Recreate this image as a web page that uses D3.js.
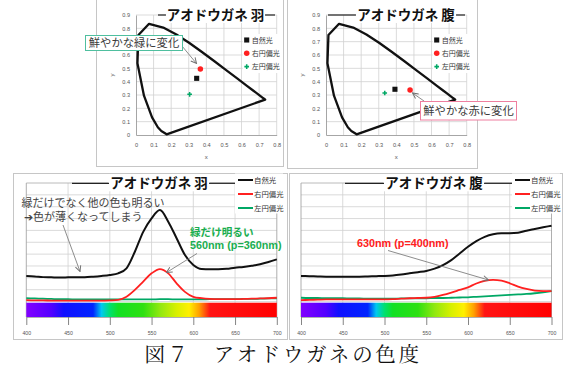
<!DOCTYPE html>
<html><head><meta charset="utf-8">
<script src="https://cdn.jsdelivr.net/npm/d3@7"></script>
<style>
html,body{margin:0;padding:0;background:#fff;}
svg{display:block;}
</style></head><body>
<svg id="fig" width="563" height="369"></svg>
<script>
// ---------- data ----------
const seriesNames = ["自然光", "右円偏光", "左円偏光"];
const seriesColors = ["#111111", "#ff2020", "#00a865"];

// CIE 1931 spectral locus at 10 nm steps (380, 460 ... 700 nm)
const locusX = [0.1741, 0.1440, 0.1241, 0.0913, 0.0454, 0.0082, 0.0139, 0.0743, 0.1547, 0.2296, 0.3016, 0.3731, 0.4441, 0.5125, 0.5752, 0.6270, 0.6658, 0.6915, 0.7190, 0.7300, 0.7347];
const locusY = [0.0050, 0.0297, 0.0578, 0.1327, 0.2950, 0.5384, 0.7502, 0.8338, 0.8059, 0.7543, 0.6923, 0.6245, 0.5547, 0.4866, 0.4242, 0.3725, 0.3340, 0.3083, 0.2809, 0.2700, 0.2653];
const chromaTicksX = [0, 0.1, 0.2, 0.3, 0.4, 0.5, 0.6, 0.7, 0.8];
const chromaTicksY = [0, 0.1, 0.2, 0.3, 0.4, 0.5, 0.6, 0.7, 0.8, 0.9];

// chromaticity (x, y) of wing and belly under each light
const wingX = [0.345, 0.366, 0.305];
const wingY = [0.425, 0.495, 0.305];
const bellyX = [0.392, 0.478, 0.334];
const bellyY = [0.343, 0.338, 0.315];

// reflectance spectra
const wavelengths = [400, 410, 420, 430, 440, 450, 460, 470, 480, 490, 500, 510, 520, 530, 540, 550, 560, 570, 580, 590, 600, 610, 620, 630, 640, 650, 660, 670, 680, 690, 700];
const wingNatural = [15.8, 15.6, 15.3, 15.2, 15.1, 15.2, 15.3, 15.3, 15.5, 15.8, 16.2, 16.9, 19.0, 26.0, 34.4, 40.1, 43.6, 38.7, 31.7, 24.6, 20.4, 18.7, 18.6, 18.6, 18.8, 19.3, 19.6, 20.1, 20.7, 21.7, 22.8];
const wingRight = [5.6, 5.5, 5.5, 5.4, 5.4, 5.4, 5.4, 5.4, 5.4, 5.4, 5.5, 5.7, 7.0, 9.9, 13.4, 16.9, 18.7, 16.9, 12.7, 9.1, 7.0, 6.4, 6.1, 6.0, 6.0, 6.0, 6.1, 6.2, 6.3, 6.4, 6.6];
const wingLeft = [6.4, 6.3, 6.2, 6.1, 6.0, 6.0, 5.9, 5.9, 5.9, 5.9, 5.9, 5.9, 5.9, 5.9, 5.9, 5.9, 6.0, 6.0, 5.9, 5.9, 5.9, 5.9, 6.0, 6.0, 6.0, 6.0, 6.1, 6.1, 6.2, 6.3, 6.4];
const bellyNatural = [15.8, 15.7, 15.6, 15.5, 15.5, 15.5, 15.5, 15.5, 15.6, 15.7, 15.8, 16.0, 16.4, 16.9, 17.4, 17.9, 18.9, 20.4, 22.5, 25.3, 28.1, 30.5, 32.3, 33.4, 33.8, 33.8, 34.0, 34.9, 35.6, 36.3, 37.0];
const bellyRight = [5.6, 5.7, 5.8, 5.9, 5.9, 5.9, 5.9, 5.9, 5.9, 5.9, 5.9, 6.0, 6.2, 6.4, 6.5, 6.6, 7.0, 7.8, 8.8, 9.9, 11.0, 12.6, 13.7, 14.1, 13.8, 12.7, 11.3, 10.3, 9.6, 9.4, 9.4];
const bellyLeft = [6.6, 6.5, 6.5, 6.4, 6.4, 6.4, 6.3, 6.3, 6.2, 6.2, 6.2, 6.2, 6.3, 6.3, 6.4, 6.4, 6.5, 6.5, 6.6, 6.7, 6.8, 7.0, 7.2, 7.4, 7.6, 7.8, 8.0, 8.2, 8.5, 8.9, 9.4];
const nmTicks = [400, 450, 500, 550, 600, 650, 700];
const gridLevels = [5, 10, 15, 20, 25, 30, 35, 40, 45, 50];

// visible spectrum strip
const rainbowNm = [400, 430, 445, 480, 490, 500, 510, 540, 560, 580, 595, 607, 620, 700];
const rainbowColors = ["#8200ff", "#5200ff", "#1010ff", "#0024ff", "#00c8f0", "#00e070", "#12e024", "#2ee012", "#90e810", "#d8f000", "#fff000", "#ffa000", "#ff1414", "#ff0000"];

// ---------- drawing ----------
const svg = d3.select("#fig");
const JP = "'Noto Sans CJK JP', sans-serif";
const LAT = "'Liberation Sans', Arial, sans-serif";
svg.append("rect").attr("width", 563).attr("height", 369).attr("fill", "#fff");

const defs = svg.append("defs");
defs.append("marker").attr("id", "arrow").attr("viewBox", "0 0 10 10")
  .attr("refX", 9).attr("refY", 5).attr("markerWidth", 7).attr("markerHeight", 7)
  .attr("markerUnits", "userSpaceOnUse").attr("orient", "auto")
  .append("path").attr("d", "M1,1 L9,5 L1,9").attr("fill", "none")
  .attr("stroke", "#707070").attr("stroke-width", 1.4);

const symbolTypes = [d3.symbolSquare, d3.symbolCircle, d3.symbolCross];
const symbolSizes = [26, 24, 12];

function arrow(g, x1, y1, x2, y2) {
  g.append("line").attr("x1", x1).attr("y1", y1).attr("x2", x2).attr("y2", y2)
    .attr("stroke", "#808080").attr("stroke-width", 0.9).attr("marker-end", "url(#arrow)");
}

function titleBar(g, t) {
  g.append("rect").attr("x", t.tx - 2).attr("y", t.y - 9).attr("width", t.tw + 4).attr("height", 17).attr("fill", "#fff");
  g.append("line").attr("x1", t.l1).attr("x2", t.tx - 1).attr("y1", t.y).attr("y2", t.y).attr("stroke", "#222").attr("stroke-width", 1.2);
  g.append("line").attr("x1", t.tx + t.tw + 1).attr("x2", t.r2).attr("y1", t.y).attr("y2", t.y).attr("stroke", "#222").attr("stroke-width", 1.2);
  g.append("text").attr("x", t.tx + t.tw / 2).attr("y", t.y + 5).attr("text-anchor", "middle")
    .attr("font-family", JP).attr("font-weight", "bold").attr("font-size", 13.5).attr("fill", "#111")
    .text(t.text);
}

function chromaPanel(p) {
  const g = svg.append("g");
  g.append("rect").attr("x", p.frame[0]).attr("y", p.frame[1]).attr("width", p.frame[2]).attr("height", p.frame[3])
    .attr("fill", "#fff").attr("stroke", "#c6c6c6");
  const x = d3.scaleLinear().domain([0, 0.8]).range([p.left, p.left + 140.7]);
  const y = d3.scaleLinear().domain([0, 0.9]).range([135, 15]);

  g.append("g").selectAll("line").data(chromaTicksX.slice(1)).join("line")
    .attr("x1", d => x(d)).attr("x2", d => x(d)).attr("y1", y(0)).attr("y2", y(0.9))
    .attr("stroke", "#d2d2d2").attr("stroke-width", 0.8);
  g.append("g").selectAll("line").data(chromaTicksY.slice(1)).join("line")
    .attr("y1", d => y(d)).attr("y2", d => y(d)).attr("x1", x(0)).attr("x2", x(0.8))
    .attr("stroke", "#d2d2d2").attr("stroke-width", 0.8);

  const ax = g.append("g").attr("transform", `translate(0,${y(0)})`)
    .call(d3.axisBottom(x).tickValues(chromaTicksX).tickSize(0).tickSizeOuter(0).tickPadding(8.5).tickFormat(d => String(d)));
  const ay = g.append("g").attr("transform", `translate(${x(0)},0)`)
    .call(d3.axisLeft(y).tickValues(chromaTicksY).tickSize(0).tickSizeOuter(0).tickPadding(6).tickFormat(d => String(d)));
  [ax, ay].forEach(a => {
    a.select(".domain").attr("stroke", "#9c9c9c").attr("stroke-width", 0.9);
    a.selectAll("text").attr("font-family", LAT).attr("font-size", 5.6).attr("fill", "#555");
  });
  g.append("text").attr("x", x(0.4)).attr("y", 159).attr("text-anchor", "middle")
    .attr("font-family", LAT).attr("font-size", 6).attr("fill", "#555").text("x");
  g.append("text").attr("transform", `translate(${p.left - 22},${y(0.45)}) rotate(-90)`).attr("text-anchor", "middle")
    .attr("font-family", LAT).attr("font-size", 6).attr("fill", "#555").text("y");

  // spectral locus
  const loc = locusX.map((v, i) => [v, locusY[i]]);
  g.append("path").attr("d", d3.line().x(d => x(d[0])).y(d => y(d[1])).curve(d3.curveLinearClosed)(loc))
    .attr("fill", "none").attr("stroke", "#111").attr("stroke-width", 2.3).attr("stroke-linejoin", "round");

  titleBar(g, p.title);

  // legend
  g.append("rect").attr("x", p.legend[0] - 4).attr("y", p.legend[1] - 6).attr("width", 40).attr("height", 39).attr("fill", "#fff");
  seriesNames.forEach((name, i) => {
    const ly = p.legend[1] + i * 13.3;
    g.append("path").attr("d", d3.symbol(symbolTypes[i], symbolSizes[i])())
      .attr("transform", `translate(${p.legend[0]},${ly})`).attr("fill", seriesColors[i]);
    g.append("text").attr("x", p.legend[0] + 5).attr("y", ly + 2.5)
      .attr("font-family", JP).attr("font-size", 7).attr("fill", "#333").text(name);
  });

  // measured points
  p.px.forEach((v, i) => {
    g.append("path").attr("d", d3.symbol(symbolTypes[i], symbolSizes[i])())
      .attr("transform", `translate(${x(v)},${y(p.py[i])})`).attr("fill", seriesColors[i]);
  });

  // callout
  const c = p.callout;
  arrow(g, c.ax1, c.ay1, c.ax2, c.ay2);
  g.append("rect").attr("x", c.x).attr("y", c.y).attr("width", c.w).attr("height", c.h)
    .attr("fill", "#fff").attr("stroke", c.color).attr("stroke-width", 1);
  g.append("text").attr("x", c.x + c.w / 2).attr("y", c.y + c.h / 2 + 4).attr("text-anchor", "middle")
    .attr("font-family", JP).attr("font-size", 11.3).attr("fill", "#3a3a3a").text(c.text);
}

function spectrumPanel(p) {
  const g = svg.append("g");
  g.append("rect").attr("x", p.frame[0]).attr("y", p.frame[1]).attr("width", p.frame[2]).attr("height", p.frame[3])
    .attr("fill", "#fff").attr("stroke", "#c6c6c6");
  const x = d3.scaleLinear().domain([400, 700]).range([p.left, p.left + 250.5]);
  const y = d3.scaleLinear().domain([0, 55]).range([313.4, 183]);
  const axisY = 317;

  g.append("g").selectAll("line").data(gridLevels).join("line")
    .attr("x1", x(400)).attr("x2", x(700)).attr("y1", d => y(d)).attr("y2", d => y(d))
    .attr("stroke", "#d0d0d0").attr("stroke-width", 0.8);
  g.append("g").selectAll("line").data(nmTicks).join("line")
    .attr("x1", d => x(d)).attr("x2", d => x(d)).attr("y1", y(55)).attr("y2", axisY)
    .attr("stroke", d => (d === 400 || d === 700) ? "#9a9a9a" : "#d0d0d0").attr("stroke-width", 0.8);
  g.append("line").attr("x1", x(400)).attr("x2", x(700)).attr("y1", y(55)).attr("y2", y(55))
    .attr("stroke", "#a8a8a8").attr("stroke-width", 0.8);

  const ax = g.append("g").attr("transform", `translate(0,${axisY})`)
    .call(d3.axisBottom(x).tickValues(nmTicks).tickSize(8).tickSizeOuter(0).tickPadding(6).tickFormat(d => String(d)));
  ax.select(".domain").attr("stroke", "#9a9a9a").attr("stroke-width", 0.8);
  ax.selectAll(".tick line").attr("stroke", "#777").attr("stroke-width", 0.9);
  ax.selectAll("text").attr("font-family", LAT).attr("font-size", 5.2).attr("fill", "#555");

  // spectrum strip
  const gid = "rainbow" + p.id;
  const grad = defs.append("linearGradient").attr("id", gid).attr("x1", 0).attr("x2", 1).attr("y1", 0).attr("y2", 0);
  rainbowNm.forEach((nm, i) => grad.append("stop").attr("offset", (nm - 400) / 300).attr("stop-color", rainbowColors[i]));
  g.append("rect").attr("x", x(400)).attr("y", 302.7).attr("width", x(700) - x(400)).attr("height", 14.3)
    .attr("fill", `url(#${gid})`);

  const line = d3.line().x((d, i) => x(wavelengths[i])).y(d => y(d)).curve(d3.curveMonotoneX);
  [2, 1, 0].forEach(i => {
    g.append("path").attr("d", line(p.series[i])).attr("fill", "none")
      .attr("stroke", seriesColors[i]).attr("stroke-width", i === 0 ? 2 : 1.8).attr("stroke-linejoin", "round");
  });

  titleBar(g, p.title);

  // legend
  g.append("rect").attr("x", p.legend[0] - 3).attr("y", 173.5).attr("width", 48).attr("height", 40).attr("fill", "#fff");
  seriesNames.forEach((name, i) => {
    const ly = p.legend[1] + i * 14;
    g.append("line").attr("x1", p.legend[0]).attr("x2", p.legend[0] + 15).attr("y1", ly).attr("y2", ly)
      .attr("stroke", seriesColors[i]).attr("stroke-width", 2);
    g.append("text").attr("x", p.legend[0] + 16).attr("y", ly + 2.6)
      .attr("font-family", JP).attr("font-size", 7.4).attr("fill", "#333").text(name);
  });
  return { g, x, y };
}

// ---------- top: chromaticity diagrams ----------
chromaPanel({
  frame: [96.5, -0.5, 187, 167], left: 136,
  px: wingX, py: wingY, legend: [246.7, 40],
  title: { text: "アオドウガネ 羽", tx: 167, tw: 97, y: 15, l1: 158, r2: 275 },
  callout: { text: "鮮やかな緑に変化", x: 85.5, y: 35.5, w: 97, h: 15, color: "#4fbf9f",
             ax1: 182, ay1: 46, ax2: 196.5, ay2: 63.5 }
});
chromaPanel({
  frame: [287.5, -0.5, 190, 169], left: 326,
  px: bellyX, py: bellyY, legend: [436.7, 40],
  title: { text: "アオドウガネ 腹", tx: 357, tw: 98, y: 15, l1: 328, r2: 465 },
  callout: { text: "鮮やかな赤に変化", x: 420.5, y: 101.5, w: 96, h: 18.5, color: "#ee7f9f",
             ax1: 424, ay1: 101, ax2: 412.5, ay2: 93 }
});

// ---------- bottom: reflectance spectra ----------
const wing = spectrumPanel({
  id: "w", frame: [13.5, 173.5, 274, 166], left: 26.3,
  series: [wingNatural, wingRight, wingLeft], legend: [238, 180],
  title: { text: "アオドウガネ 羽", tx: 110, tw: 98, y: 183.3, l1: 72, r2: 235 }
});
const belly = spectrumPanel({
  id: "b", frame: [289.5, 173.5, 273, 166], left: 301,
  series: [bellyNatural, bellyRight, bellyLeft], legend: [515, 180],
  title: { text: "アオドウガネ 腹", tx: 385, tw: 98, y: 183.3, l1: 345, r2: 512 }
});

// annotations on the wing spectrum
const wg = wing.g;
wg.append("text").attr("x", 21.5).attr("y", 207).attr("font-family", JP).attr("font-size", 11)
  .attr("fill", "#444").text("緑だけでなく他の色も明るい");
wg.append("text").attr("x", 24).attr("y", 221).attr("font-family", JP).attr("font-size", 11)
  .attr("fill", "#444").text("➔色が薄くなってしまう");
arrow(wg, 63, 225, 80, 271.5);
wg.append("text").attr("x", 190).attr("y", 235.5).attr("font-family", JP).attr("font-weight", "bold")
  .attr("font-size", 10.6).attr("fill", "#1aae50").text("緑だけ明るい");
wg.append("text").attr("x", 190).attr("y", 249).attr("font-family", LAT).attr("font-weight", "bold")
  .attr("font-size", 10.8).attr("fill", "#1aae50").text("560nm (p=360nm)");
arrow(wg, 197, 253.5, 166.5, 272.5);

// annotation on the belly spectrum
const bg = belly.g;
bg.append("text").attr("x", 357).attr("y", 247.3).attr("font-family", LAT).attr("font-weight", "bold")
  .attr("font-size", 10.8).attr("fill", "#ff2020").text("630nm (p=400nm)");
arrow(bg, 388, 250.5, 488.5, 280);

// caption
svg.append("text").attr("x", 283).attr("y", 362).attr("text-anchor", "middle")
  .attr("font-family", "'Noto Serif CJK JP', 'Noto Sans CJK JP', serif").attr("font-size", 20.5)
  .attr("letter-spacing", 2.6).attr("fill", "#111").text("図７　アオドウガネの色度");
</script>
</body></html>
